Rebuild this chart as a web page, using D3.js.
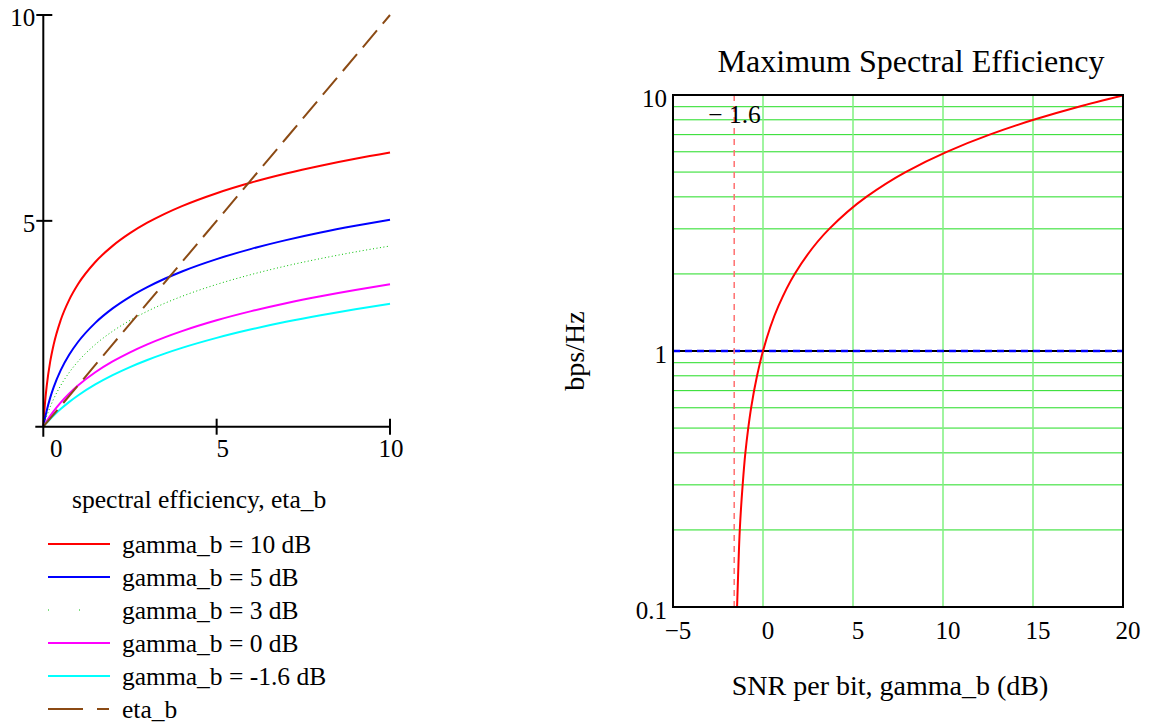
<!DOCTYPE html>
<html>
<head>
<meta charset="utf-8">
<script src="https://cdn.jsdelivr.net/npm/d3@7"></script>
<style>
  body { margin: 0; background: #fff; }
  svg { display: block; }
  text { font-family: "Liberation Serif", "Times New Roman", serif; fill: #000; }
</style>
</head>
<body>
<svg id="chart"></svg>
<script>
const width = 1152;
const height = 723;

// left plot: capacity vs spectral efficiency eta_b
const etaValues = [0, 0.05, 0.1, 0.2, 0.3, 0.5, 0.75, 1, 1.5, 2, 2.5, 3, 3.5, 4, 5, 6, 7, 8, 9, 10];
const gamma10 = [0, 0.585, 1, 1.585, 2, 2.585, 3.087, 3.459, 4, 4.392, 4.7, 4.954, 5.17, 5.358, 5.672, 5.931, 6.15, 6.34, 6.508, 6.658];
const gamma5 = [0, 0.212, 0.396, 0.707, 0.962, 1.368, 1.753, 2.057, 2.522, 2.873, 3.155, 3.39, 3.593, 3.771, 4.071, 4.32, 4.532, 4.717, 4.88, 5.028];
const gamma3 = [0, 0.137, 0.262, 0.484, 0.677, 0.998, 1.32, 1.583, 1.997, 2.319, 2.582, 2.804, 2.997, 3.167, 3.456, 3.697, 3.904, 4.084, 4.245, 4.389];
const gamma0 = [0, 0.07, 0.138, 0.263, 0.379, 0.585, 0.807, 1, 1.322, 1.585, 1.807, 2, 2.17, 2.322, 2.585, 2.807, 3, 3.17, 3.322, 3.459];
const gammaM16 = [0, 0.049, 0.097, 0.187, 0.272, 0.429, 0.603, 0.759, 1.027, 1.253, 1.449, 1.621, 1.775, 1.914, 2.157, 2.365, 2.547, 2.708, 2.853, 2.985];
const etaLineX = [0, 1, 2, 3, 4, 5, 6, 7, 8, 9, 10];
const etaLineY = [0, 1, 2, 3, 4, 5, 6, 7, 8, 9, 10];

const legendLabels = ["gamma_b = 10 dB", "gamma_b = 5 dB", "gamma_b = 3 dB", "gamma_b = 0 dB", "gamma_b = -1.6 dB", "eta_b"];
const leftXTicks = [0, 5, 10];
const leftYTicks = [5, 10];

// right plot: maximum spectral efficiency vs SNR per bit
const maxEta = [0.1, 0.15, 0.2, 0.3, 0.4, 0.5, 0.6, 0.8, 1, 1.5, 2, 3, 4, 5, 6, 7, 8, 9, 10];
const snrDb = [-1.44, -1.36, -1.29, -1.13, -0.98, -0.82, -0.66, -0.33, 0, 0.86, 1.76, 3.68, 5.74, 7.92, 10.21, 12.59, 15.03, 17.54, 20.1];
const shannonLimit = -1.6;
const rightXTicks = [-5, 0, 5, 10, 15, 20];
const rightXGrid = [0, 5, 10, 15, 20];
const rightYTicks = [0.1, 1, 10];
const rightYGrid = [0.2, 0.3, 0.4, 0.5, 0.6, 0.7, 0.8, 0.9, 2, 3, 4, 5, 6, 7, 8, 9];

const svg = d3.select("#chart")
    .attr("width", width)
    .attr("height", height);

// ---------- left plot ----------
const x1 = d3.scaleLinear().domain([0, 10]).range([43.3, 390]);
const y1 = d3.scaleLinear().domain([0, 10]).range([426.7, 15]);

const left = svg.append("g");

const series = [
    { values: gamma10, color: "#ff0000", width: 2, dash: null },
    { values: gamma5, color: "#0000ff", width: 2, dash: null },
    { values: gamma3, color: "#00c000", width: 1, dash: "1,2.5" },
    { values: gamma0, color: "#ff00ff", width: 2, dash: null },
    { values: gammaM16, color: "#00ffff", width: 2, dash: null }
];

const line1 = d3.line()
    .x(d => x1(d[0]))
    .y(d => y1(d[1]))
    .curve(d3.curveMonotoneX);

series.forEach(s => {
    left.append("path")
        .datum(etaValues.map((e, i) => [e, s.values[i]]))
        .attr("d", line1)
        .attr("fill", "none")
        .attr("stroke", s.color)
        .attr("stroke-width", s.width)
        .attr("stroke-dasharray", s.dash);
});

left.append("path")
    .datum(etaLineX.map((e, i) => [e, etaLineY[i]]))
    .attr("d", d3.line().x(d => x1(d[0])).y(d => y1(d[1])))
    .attr("fill", "none")
    .attr("stroke", "#8b4a14")
    .attr("stroke-width", 2)
    .attr("stroke-dasharray", "22,9");

// axes, mathcad style: crossing ticks
left.append("line")
    .attr("x1", x1(0)).attr("x2", x1(0))
    .attr("y1", y1(10)).attr("y2", y1(0) + 10)
    .attr("stroke", "#000").attr("stroke-width", 2);
left.append("line")
    .attr("x1", x1(0) - 8).attr("x2", x1(10))
    .attr("y1", y1(0)).attr("y2", y1(0))
    .attr("stroke", "#000").attr("stroke-width", 2);

left.selectAll(".ytick").data(leftYTicks).enter().append("line")
    .attr("x1", x1(0) - 7).attr("x2", x1(0) + 9)
    .attr("y1", d => y1(d)).attr("y2", d => y1(d))
    .attr("stroke", "#000").attr("stroke-width", 2);
left.selectAll(".ylab").data(leftYTicks).enter().append("text")
    .attr("x", x1(0) - 8)
    .attr("y", d => y1(d) + 11)
    .attr("text-anchor", "end")
    .attr("font-size", 25)
    .text(d => d);

left.selectAll(".xtick").data(leftXTicks.slice(1)).enter().append("line")
    .attr("x1", d => x1(d)).attr("x2", d => x1(d))
    .attr("y1", y1(0) - 8).attr("y2", y1(0) + 8)
    .attr("stroke", "#000").attr("stroke-width", 2);
left.selectAll(".xlab").data(leftXTicks).enter().append("text")
    .attr("x", d => x1(d) + (d === 0 ? 13 : d === 10 ? 1 : 6))
    .attr("y", y1(0) + 30)
    .attr("text-anchor", "middle")
    .attr("font-size", 25)
    .text(d => d);

// legend
const legend = left.append("g");
legend.append("text")
    .attr("x", 72).attr("y", 508)
    .attr("font-size", 25.6)
    .text("spectral efficiency, eta_b");

const legendStyles = series.map(s => ({ color: s.color, width: s.width, dash: s.dash }))
    .concat([{ color: "#8b4a14", width: 2, dash: "35,14,12,100" }]);
legendStyles[2] = { color: "#00c000", width: 1, dash: "1,30" };

legendLabels.forEach((label, i) => {
    const ly = 544 + i * 33;
    legend.append("line")
        .attr("x1", 48).attr("x2", 110)
        .attr("y1", ly).attr("y2", ly)
        .attr("stroke", legendStyles[i].color)
        .attr("stroke-width", legendStyles[i].width)
        .attr("stroke-dasharray", legendStyles[i].dash);
    legend.append("text")
        .attr("x", 122).attr("y", ly + 9)
        .attr("font-size", 25.5)
        .text(label);
});

// ---------- right plot ----------
const x2 = d3.scaleLinear().domain([-5, 20]).range([673, 1123]);
const y2 = d3.scaleLog().domain([0.1, 10]).range([607, 95]);

const right = svg.append("g");

right.append("clipPath").attr("id", "clip")
    .append("rect")
    .attr("x", x2(-5)).attr("y", y2(10))
    .attr("width", x2(20) - x2(-5)).attr("height", y2(0.1) - y2(10));

right.selectAll(".hgrid").data(rightYGrid).enter().append("line")
    .attr("x1", x2(-5)).attr("x2", x2(20))
    .attr("y1", d => y2(d)).attr("y2", d => y2(d))
    .attr("stroke", "#22dd22").attr("stroke-width", 1);

right.selectAll(".vgrid").data(rightXGrid).enter().append("line")
    .attr("x1", d => x2(d)).attr("x2", d => x2(d))
    .attr("y1", y2(10)).attr("y2", y2(0.1))
    .attr("stroke", "#80f080").attr("stroke-width", 1.5);

// reference line at 1 bps/Hz
right.append("line")
    .attr("x1", x2(-5)).attr("x2", x2(20))
    .attr("y1", y2(1)).attr("y2", y2(1))
    .attr("stroke", "#000").attr("stroke-width", 2);
right.append("line")
    .attr("x1", x2(-5)).attr("x2", x2(20))
    .attr("y1", y2(1)).attr("y2", y2(1))
    .attr("stroke", "#0000ff").attr("stroke-width", 2.5)
    .attr("stroke-dasharray", "7,5");

// Shannon limit marker
right.append("line")
    .attr("x1", x2(shannonLimit)).attr("x2", x2(shannonLimit))
    .attr("y1", y2(10)).attr("y2", y2(0.1))
    .attr("stroke", "#ff7070").attr("stroke-width", 1.5)
    .attr("stroke-dasharray", "6,5");
right.append("text")
    .attr("x", x2(shannonLimit) - 26).attr("y", y2(10) + 28)
    .attr("font-size", 25.5)
    .text("\u2212 1.6");

right.append("path")
    .datum(maxEta.map((e, i) => [snrDb[i], e]))
    .attr("clip-path", "url(#clip)")
    .attr("d", d3.line().x(d => x2(d[0])).y(d => y2(d[1])).curve(d3.curveMonotoneY))
    .attr("fill", "none")
    .attr("stroke", "#ff0000")
    .attr("stroke-width", 2);

right.append("rect")
    .attr("x", x2(-5)).attr("y", y2(10))
    .attr("width", x2(20) - x2(-5)).attr("height", y2(0.1) - y2(10))
    .attr("fill", "none")
    .attr("stroke", "#000").attr("stroke-width", 2);

right.selectAll(".ylab").data(rightYTicks).enter().append("text")
    .attr("x", x2(-5) - 6)
    .attr("y", d => y2(d) + 12)
    .attr("text-anchor", "end")
    .attr("font-size", 25)
    .text(d => d);

right.selectAll(".xlab").data(rightXTicks).enter().append("text")
    .attr("x", d => x2(d) + 5)
    .attr("y", 639)
    .attr("text-anchor", "middle")
    .attr("font-size", 25)
    .text(d => d < 0 ? "\u2212" + Math.abs(d) : d);

right.append("text")
    .attr("x", 911).attr("y", 72)
    .attr("text-anchor", "middle")
    .attr("font-size", 32)
    .text("Maximum Spectral Efficiency");

right.append("text")
    .attr("x", 890).attr("y", 695)
    .attr("text-anchor", "middle")
    .attr("font-size", 28)
    .text("SNR per bit, gamma_b (dB)");

right.append("text")
    .attr("transform", "translate(584,351) rotate(-90)")
    .attr("text-anchor", "middle")
    .attr("font-size", 28)
    .text("bps/Hz");
</script>
</body>
</html>
